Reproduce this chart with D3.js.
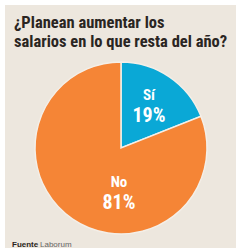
<!DOCTYPE html>
<html>
<head>
<meta charset="utf-8">
<script src="https://cdn.jsdelivr.net/npm/d3@7"></script>
<style>
  body { margin: 0; background: #fff; }
  svg { display: block; }
</style>
</head>
<body>
<div id="chart"></div>
<script>
const categories = ["Sí", "No"];
const values = [19, 81];
const colors = ["#0aa8d6", "#f58536"];
const titleLines = ["¿Planean aumentar los", "salarios en lo que resta del año?"];

const W = 240, H = 248;
const font = "'Liberation Sans Narrow', 'Roboto Condensed', 'Liberation Sans', sans-serif";
const svg = d3.select("#chart").append("svg")
    .attr("width", W)
    .attr("height", H);

// beige panel
svg.append("rect")
    .attr("x", 5).attr("y", 5)
    .attr("width", 231).attr("height", H - 5)
    .attr("fill", "#ede7de");

svg.append("text")
    .attr("x", 14).attr("y", 28)
    .attr("font-family", font)
    .attr("font-weight", "bold")
    .attr("font-size", 16.5)
    .attr("fill", "#2a2522")
    .selectAll("tspan")
    .data(titleLines)
    .enter().append("tspan")
    .attr("x", 14)
    .attr("dy", (d, i) => i ? 19 : 0)
    .text(d => d);

const cx = 121, cy = 148, r = 86;
const pie = d3.pie().sort(null).value(d => d.v);
const arcs = pie(categories.map((c, i) => ({ c: c, v: values[i] })));
const arc = d3.arc().innerRadius(0).outerRadius(r);

const g = svg.append("g").attr("transform", "translate(" + cx + "," + cy + ")");

g.selectAll("path")
    .data(arcs)
    .enter().append("path")
    .attr("d", arc)
    .attr("fill", (d, i) => colors[i])
    .attr("stroke", "#f4efe8")
    .attr("stroke-width", 1.5);

// label offsets from the pie centre
const labelPos = [[28, -48], [-2, 39]];
const lab = g.selectAll("g.lab")
    .data(arcs)
    .enter().append("g")
    .attr("class", "lab")
    .attr("transform", (d, i) => "translate(" + labelPos[i][0] + "," + labelPos[i][1] + ")");

lab.append("text")
    .attr("text-anchor", "middle")
    .attr("font-family", font)
    .attr("font-weight", "bold")
    .attr("font-size", 15)
    .attr("fill", "#fff")
    .text(d => d.data.c);

lab.append("text")
    .attr("text-anchor", "middle")
    .attr("y", 22)
    .attr("font-family", font)
    .attr("font-weight", "bold")
    .attr("font-size", 20)
    .attr("fill", "#fff")
    .text(d => d.data.v + "%");

const foot = svg.append("text")
    .attr("x", 12).attr("y", 247)
    .attr("font-family", "'Liberation Sans', sans-serif")
    .attr("font-size", 8)
    .attr("fill", "#2a2522");
foot.append("tspan").attr("font-weight", "bold").text("Fuente");
foot.append("tspan").attr("x", 40).attr("fill", "#666").text("Laborum");
</script>
</body>
</html>
